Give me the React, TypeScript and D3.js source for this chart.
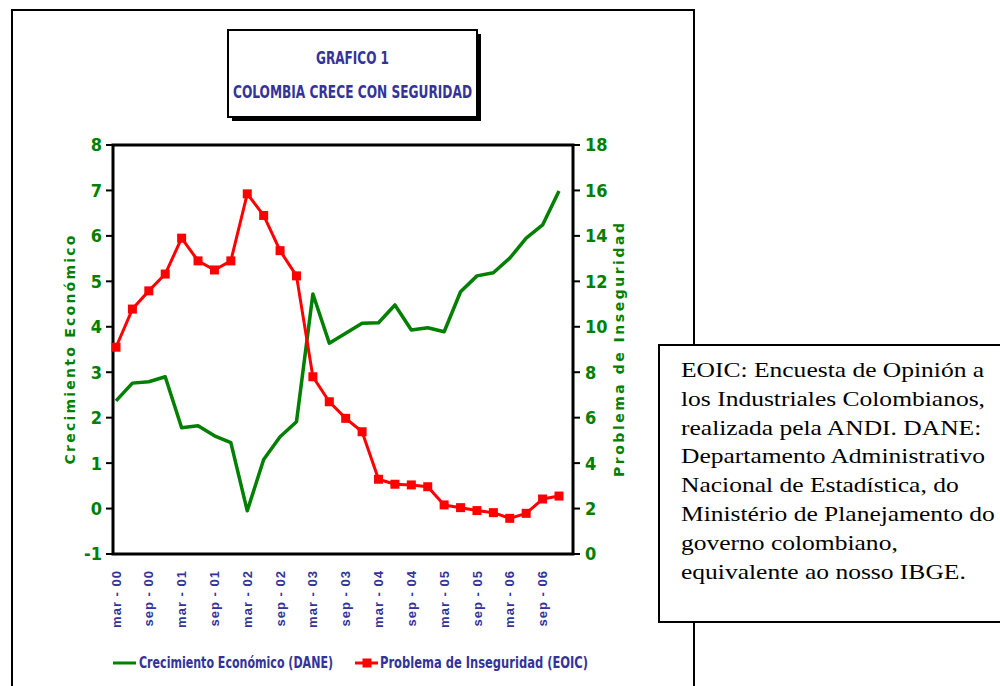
import React from 'react';
import * as d3 from 'd3';

// quarters, mar-00 .. dic-06
const quarters = [
  'mar-00', 'jun-00', 'sep-00', 'dic-00',
  'mar-01', 'jun-01', 'sep-01', 'dic-01',
  'mar-02', 'jun-02', 'sep-02', 'dic-02',
  'mar-03', 'jun-03', 'sep-03', 'dic-03',
  'mar-04', 'jun-04', 'sep-04', 'dic-04',
  'mar-05', 'jun-05', 'sep-05', 'dic-05',
  'mar-06', 'jun-06', 'sep-06', 'dic-06',
];

const tickLabels = [
  'mar-00', 'sep-00', 'mar-01', 'sep-01', 'mar-02', 'sep-02', 'mar-03',
  'sep-03', 'mar-04', 'sep-04', 'mar-05', 'sep-05', 'mar-06', 'sep-06',
];

// Crecimiento Económico (DANE) - left axis
const crecimiento = [
  2.37, 2.76, 2.79, 2.9, 1.78, 1.82, 1.6, 1.45,
  -0.05, 1.08, 1.58, 1.91, 4.72, 3.64, 3.86, 4.08,
  4.09, 4.48, 3.93, 3.98, 3.89, 4.77, 5.12, 5.19,
  5.51, 5.95, 6.24, 6.99,
];

// Problema de Inseguridad (EOIC) - right axis
const inseguridad = [
  9.1, 10.78, 11.58, 12.32, 13.9, 12.9, 12.5, 12.9,
  15.85, 14.9, 13.35, 12.24, 7.8, 6.7, 5.97, 5.38,
  3.29, 3.07, 3.04, 2.96, 2.16, 2.04, 1.91, 1.82,
  1.57, 1.79, 2.42, 2.55,
];

const leftTicks = [-1, 0, 1, 2, 3, 4, 5, 6, 7, 8];
const rightTicks = [0, 2, 4, 6, 8, 10, 12, 14, 16, 18];

const noteLines = [
  'EOIC: Encuesta de Opinión a',
  'los Industriales Colombianos,',
  'realizada pela ANDI. DANE:',
  'Departamento Administrativo',
  'Nacional de Estadística, do',
  'Ministério de Planejamento do',
  'governo colombiano,',
  'equivalente ao nosso IBGE.',
];

const GREEN = '#008000';
const RED = '#ff0000';
const NAVY = '#333399';
const COMIC = '"Liberation Sans Narrow", "DejaVu Sans Condensed", "Liberation Sans", sans-serif';

const plot = { left: 113, right: 573, top: 145, bottom: 554 };

const App: React.FC = () => {
  const x = d3.scalePoint<string>().domain(quarters).range([116, 559]).padding(0);
  const yL = d3.scaleLinear().domain([-1, 8]).range([plot.bottom, plot.top]);
  const yR = d3.scaleLinear().domain([0, 18]).range([plot.bottom, plot.top]);

  const greenLine = d3.line<number>()
    .x((_, i) => x(quarters[i]) as number)
    .y(d => yL(d));
  const redLine = d3.line<number>()
    .x((_, i) => x(quarters[i]) as number)
    .y(d => yR(d));

  return (
    <svg width={1000} height={686} style={{ position: 'absolute', left: 0, top: 0, background: '#fff' }}>
      {/* outer frame */}
      <path d="M12,690 L12,10 L694,10 L694,690" fill="none" stroke="#000" strokeWidth={2} />

      {/* title box */}
      <rect x={232} y={34} width={249} height={87} fill="#000" />
      <rect x={228} y={30} width={249} height={87} fill="#fff" stroke="#000" strokeWidth={2} />
      <text x={352.5} y={58} dy="0.35em" textAnchor="middle" fill={NAVY} fontFamily={COMIC}
        fontWeight="bold" fontSize={17} textLength={73} lengthAdjust="spacingAndGlyphs">GRAFICO 1</text>
      <text x={352.5} y={92} dy="0.35em" textAnchor="middle" fill={NAVY} fontFamily={COMIC}
        fontWeight="bold" fontSize={17} textLength={239} lengthAdjust="spacingAndGlyphs">COLOMBIA CRECE CON SEGURIDAD</text>

      {/* plot frame */}
      <rect x={plot.left} y={plot.top} width={plot.right - plot.left} height={plot.bottom - plot.top}
        fill="#fff" stroke="#000" strokeWidth={3} />

      {/* left axis */}
      {leftTicks.map(t => (
        <g key={'l' + t}>
          <line x1={106} x2={plot.left} y1={yL(t)} y2={yL(t)} stroke="#000" strokeWidth={2} />
          <text x={102} y={yL(t)} dy="0.36em" textAnchor="end" fill={GREEN} fontFamily={COMIC}
            fontWeight="bold" fontSize={18}>{t}</text>
        </g>
      ))}
      <text transform="translate(70,350) rotate(-90)" dy="0.35em" textAnchor="middle" fill={GREEN}
        fontFamily="'DejaVu Sans', sans-serif" fontWeight="bold" fontSize={14}
        textLength={229} lengthAdjust="spacing">Crecimiento Económico</text>

      {/* right axis */}
      {rightTicks.map(t => (
        <g key={'r' + t}>
          <line x1={plot.right} x2={580} y1={yR(t)} y2={yR(t)} stroke="#000" strokeWidth={2} />
          <text x={585} y={yR(t)} dy="0.36em" textAnchor="start" fill={GREEN} fontFamily={COMIC}
            fontWeight="bold" fontSize={18}>{t}</text>
        </g>
      ))}
      <text transform="translate(619,350) rotate(-90)" dy="0.35em" textAnchor="middle" fill={GREEN}
        fontFamily="'DejaVu Sans', sans-serif" fontWeight="bold" fontSize={14}
        textLength={254} lengthAdjust="spacing">Problema de Inseguridad</text>

      {/* x labels */}
      {tickLabels.map(q => (
        <text key={q} transform={`translate(${x(q)},570) rotate(-90)`} dy="0.35em" textAnchor="end"
          fill={NAVY} fontFamily="'Liberation Sans', Arial, sans-serif" fontWeight="bold" fontSize={13}
          letterSpacing={1}>{q.replace('-', ' - ')}</text>
      ))}

      {/* series */}
      <path d={greenLine(crecimiento) || ''} fill="none" stroke={GREEN} strokeWidth={3.5} strokeLinejoin="round" />
      <path d={redLine(inseguridad) || ''} fill="none" stroke={RED} strokeWidth={3} strokeLinejoin="round" />
      {inseguridad.map((v, i) => (
        <rect key={i} x={(x(quarters[i]) as number) - 4.5} y={yR(v) - 4.5} width={9} height={9} fill={RED} />
      ))}

      {/* legend */}
      <line x1={113} x2={136} y1={663} y2={663} stroke={GREEN} strokeWidth={3} />
      <text x={139} y={663} dy="0.35em" fill={NAVY} fontFamily={COMIC} fontWeight="bold" fontSize={15}
        textLength={194} lengthAdjust="spacingAndGlyphs">Crecimiento Económico (DANE)</text>
      <line x1={355} x2={378} y1={663} y2={663} stroke={RED} strokeWidth={3} />
      <rect x={362.5} y={658.5} width={9} height={9} fill={RED} />
      <text x={380} y={663} dy="0.35em" fill={NAVY} fontFamily={COMIC} fontWeight="bold" fontSize={15}
        textLength={208} lengthAdjust="spacingAndGlyphs">Problema de Inseguridad (EOIC)</text>

      {/* note box */}
      <rect x={659} y={345} width={345} height={277} fill="#fff" stroke="#000" strokeWidth={2} />
      <g transform="translate(681,377) scale(1.16,1)">
        {noteLines.map((l, i) => (
          <text key={i} x={0} y={i * 28.8} fill="#000" fontFamily="'Liberation Serif', 'Times New Roman', serif"
            fontSize={22}>{l}</text>
        ))}
      </g>
    </svg>
  );
};

export default App;
